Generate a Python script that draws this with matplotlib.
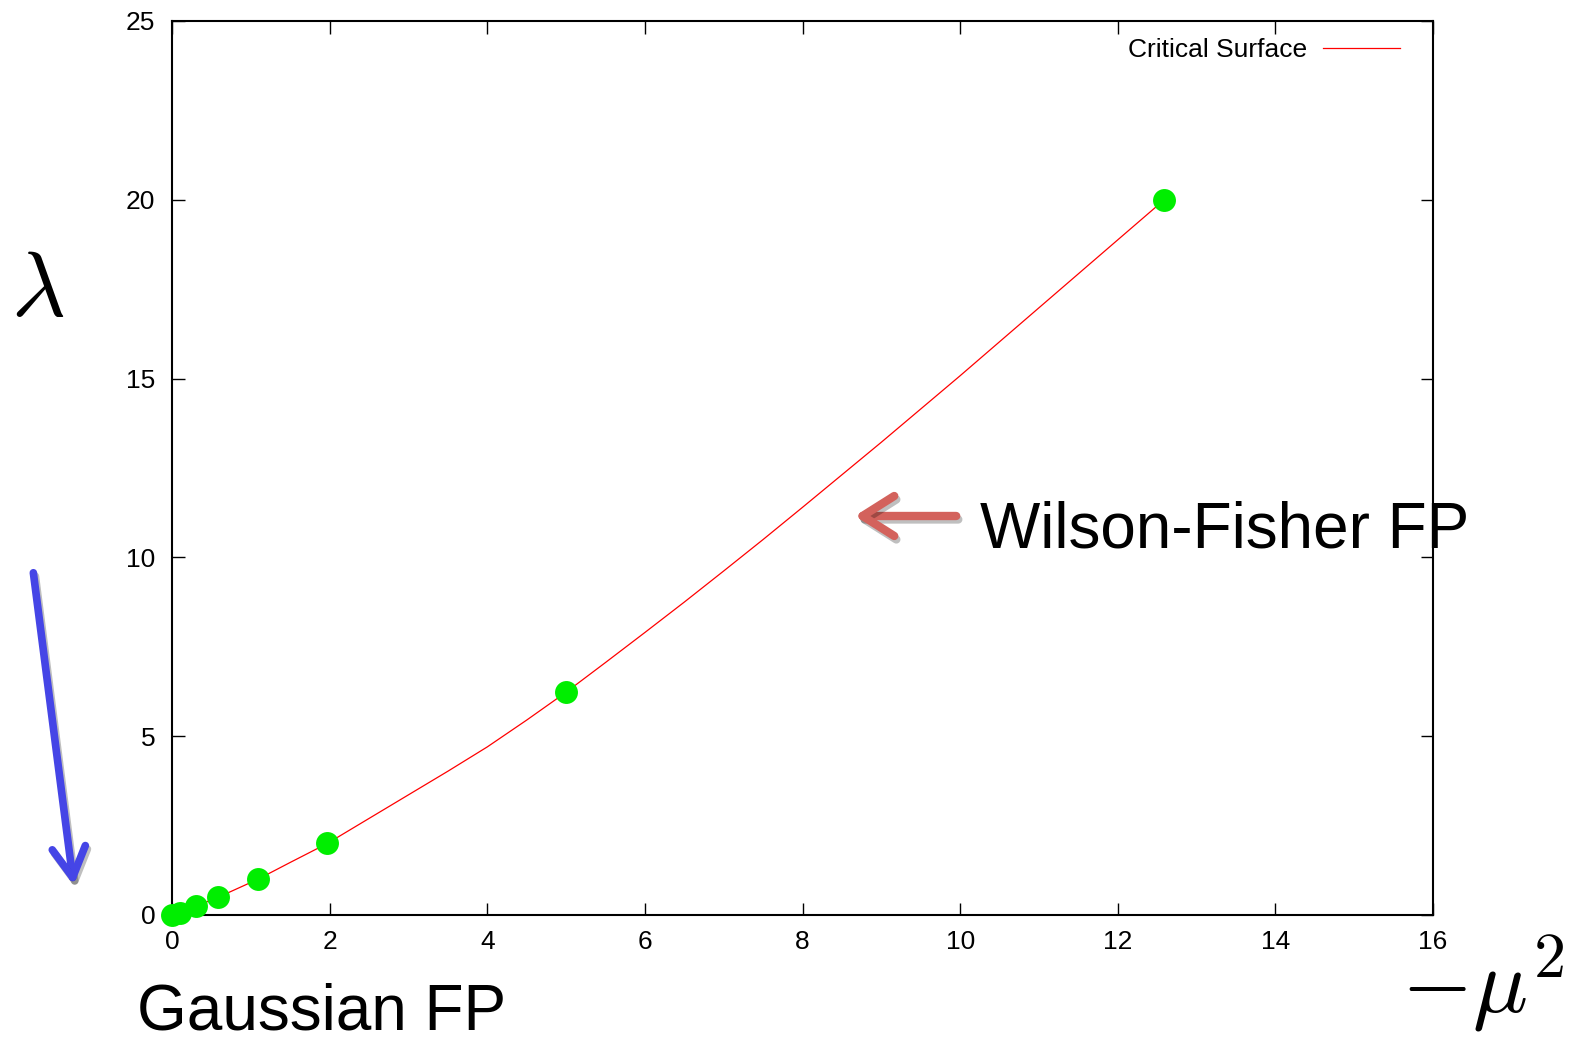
import numpy as np
import matplotlib.pyplot as plt
from matplotlib import patheffects
from matplotlib.patches import FancyArrowPatch

plt.rcParams['font.family'] = ['Liberation Sans', 'DejaVu Sans']

# fixed points found along the flow
mu2_pts = [0.0, 0.10, 0.31, 0.58, 1.09, 1.97, 5.0, 12.59]
lam_pts = [0.0, 0.05, 0.25, 0.49, 1.0, 2.0, 6.23, 20.0]

# critical surface curve, read at a number of places along the red line
mu2_curve = [0.0, 0.10, 0.31, 0.58, 1.09, 1.5, 1.97, 2.5, 3.0, 3.5, 4.0, 4.5, 5.0,
             5.5, 6.0, 6.5, 7.0, 7.5, 8.0, 8.5, 9.0, 9.5, 10.0, 10.5, 11.0, 11.5, 12.0, 12.59]
lam_curve = [0.0, 0.05, 0.25, 0.49, 1.0, 1.47, 2.0, 2.70, 3.36, 4.02, 4.70, 5.45, 6.23,
             7.06, 7.90, 8.75, 9.62, 10.50, 11.40, 12.31, 13.22, 14.15, 15.08, 16.03, 16.98, 17.93, 18.88, 20.0]

xticks = [0, 2, 4, 6, 8, 10, 12, 14, 16]
yticks = [0, 5, 10, 15, 20, 25]

fig = plt.figure(figsize=(15.72, 10.39), dpi=100)
ax = fig.add_axes([172/1572, 1 - 915/1039, (1433 - 172)/1572, (915 - 21)/1039])

ax.plot(mu2_curve, lam_curve, color='red', lw=0.9, label='Critical Surface')
ax.plot(mu2_pts, lam_pts, 'o', color='#00ee00', markersize=16.5, markeredgewidth=0,
        zorder=3, clip_on=False)

ax.set_xlim(0, 16)
ax.set_ylim(0, 25)
ax.set_xticks(xticks)
ax.set_yticks(yticks)
ax.tick_params(direction='in', length=9, width=1, top=True, right=True, labelsize=19)
ax.tick_params(axis='y', pad=12)
ax.tick_params(axis='x', pad=11)
for s in ax.spines.values():
    s.set_linewidth(1.5)

ax.legend(loc='upper right', bbox_to_anchor=(0.982, 0.993), frameon=False, markerfirst=False,
          fontsize=19, handlelength=2.9, handletextpad=0.6, borderaxespad=0)

# axis symbols and annotations drawn in figure pixels
fig.text(38/1572, 1 - 292/1039, r'$\lambda$', fontsize=67, math_fontfamily='cm',
         ha='center', va='center')
fig.text(1564/1572, 1 - 1012/1039, r'$-\mu^2$', fontsize=66, math_fontfamily='cm',
         ha='right', va='baseline')
fig.text(137/1572, 1 - 1029/1039, 'Gaussian FP', fontsize=46, ha='left', va='baseline')
fig.text(980/1572, 1 - 548/1039, 'Wilson-Fisher FP', fontsize=46, ha='left', va='baseline')

shadow = [patheffects.SimpleLineShadow(offset=(1.5, -2.5), alpha=0.25), patheffects.Normal()]
a1 = fig.add_artist(FancyArrowPatch(
    (959/1572, 1 - 516/1039), (852/1572, 1 - 516/1039), transform=fig.transFigure,
    arrowstyle='->,head_length=1.9,head_width=1.2', color='#d3625c', lw=6,
    capstyle='round', joinstyle='round', mutation_scale=12))
a1.set_path_effects(shadow)
a2 = fig.add_artist(FancyArrowPatch(
    (33/1572, 1 - 570/1039), (74/1572, 1 - 888/1039), transform=fig.transFigure,
    arrowstyle='->,head_length=1.8,head_width=1.0', color='#4545e6', lw=5.5,
    capstyle='round', joinstyle='round', mutation_scale=12))
a2.set_path_effects(shadow)

fig.savefig('out.png', dpi=100)
